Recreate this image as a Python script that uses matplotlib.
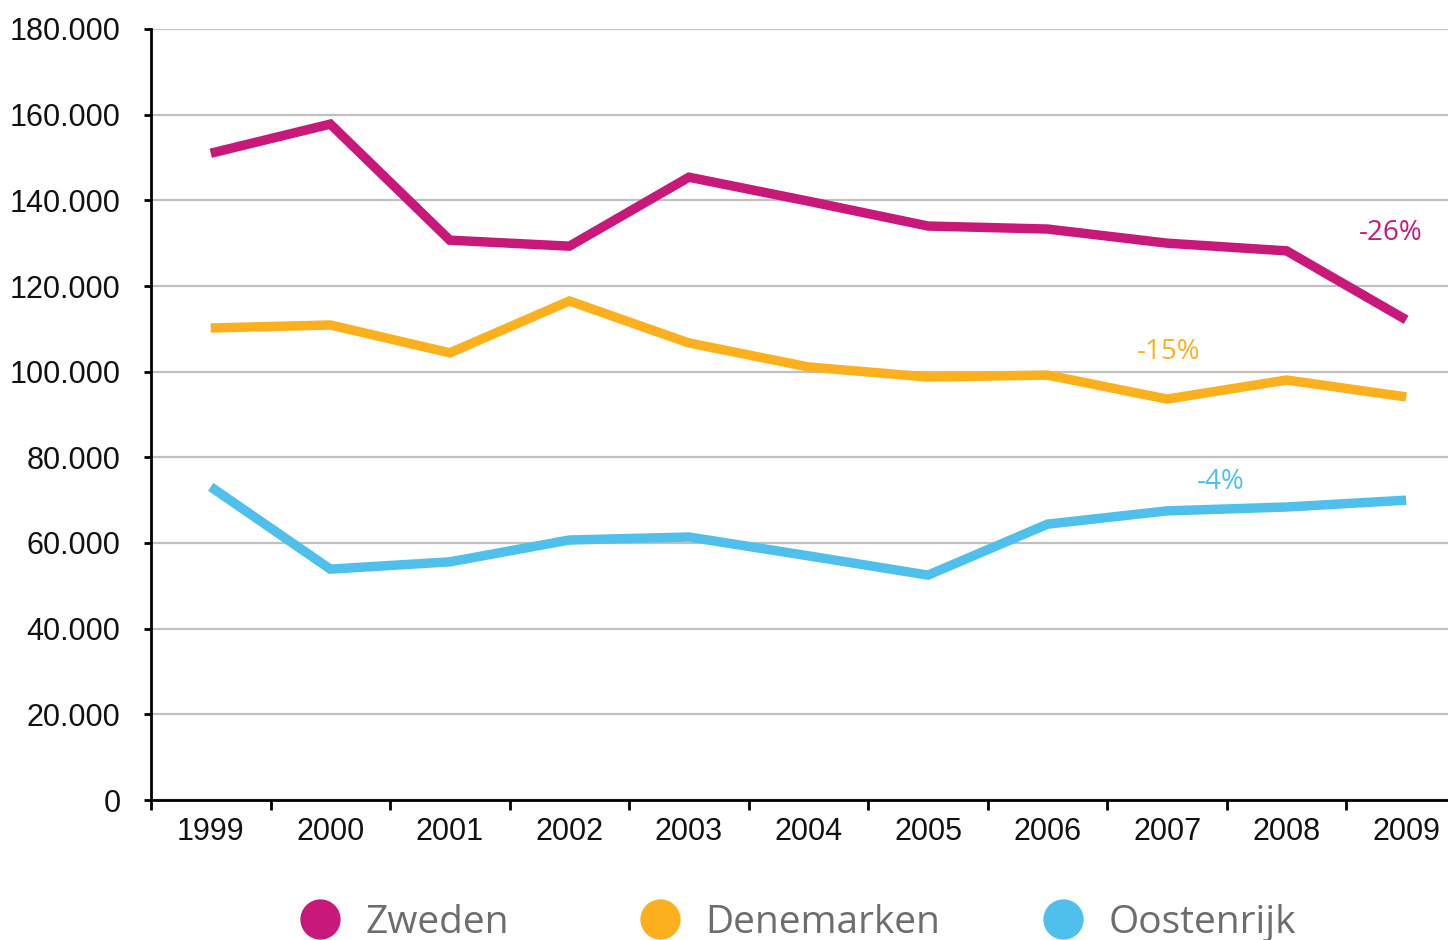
import matplotlib
matplotlib.use("Agg")
import matplotlib.pyplot as plt
from matplotlib.lines import Line2D
from matplotlib.ticker import FuncFormatter, FixedLocator

years = ["1999", "2000", "2001", "2002", "2003", "2004", "2005", "2006", "2007", "2008", "2009"]
zweden = [151000, 157800, 130700, 129300, 145400, 139800, 134000, 133300, 130000, 128200, 112100]
denemarken = [110200, 110900, 104400, 116500, 106700, 101100, 98750, 99200, 93600, 98050, 94100]
oostenrijk = [73100, 53900, 55600, 60700, 61400, 57000, 52500, 64400, 67500, 68400, 70000]
series_names = ["Zweden", "Denemarken", "Oostenrijk"]
colors = ["#C8197A", "#FDB01E", "#4EC0EB"]
changes = ["-26%", "-15%", "-4%"]
change_pos = [(9.87, 132400), (8.01, 104600), (8.45, 74200)]
yticks = [0, 20000, 40000, 60000, 80000, 100000, 120000, 140000, 160000, 180000]

plt.rcParams['font.family'] = ['Liberation Sans', 'DejaVu Sans']

fig = plt.figure(figsize=(14.48, 9.40), dpi=100)
ax = fig.add_axes([151/1448, 1-800/940, 1-151/1448, (800-29)/940])

x = list(range(len(years)))
for vals, c in zip([zweden, denemarken, oostenrijk], colors):
    ax.plot(x, vals, color=c, lw=6.8, solid_capstyle='butt', solid_joinstyle='miter', zorder=3)

for txt, (px, py), c in zip(changes, change_pos, colors):
    ax.text(px, py, txt, color=c, fontsize=20, ha='center', va='center',
            family=['Open Sans', 'DejaVu Sans'], zorder=4)

ax.set_xlim(-0.5, 10.35)
ax.set_ylim(0, 180000)
ax.set_yticks(yticks)
ax.yaxis.set_major_formatter(FuncFormatter(lambda v, p: f"{int(v):,}".replace(",", ".")))
ax.set_xticks(x)
ax.set_xticklabels(years)
ax.xaxis.set_minor_locator(FixedLocator([i - 0.5 for i in range(len(years))]))
ax.tick_params(axis='x', which='major', length=0, pad=12, labelsize=22, labelcolor='#111111')
ax.tick_params(axis='x', which='minor', length=7, width=2, direction='out', color='black')
ax.tick_params(axis='y', which='major', length=5, width=2, direction='out', pad=17,
               labelsize=22, labelcolor='#111111')

ax.grid(axis='y', color='#c0c0c0', lw=1.6, zorder=0)
ax.set_axisbelow(True)
for s in ['top', 'right']:
    ax.spines[s].set_visible(False)
for s in ['left', 'bottom']:
    ax.spines[s].set_linewidth(2)
    ax.spines[s].set_color('black')
    ax.spines[s].set_zorder(5)

legend_left_px = [300, 640, 1043]
for name, c, lx in zip(series_names, colors, legend_left_px):
    h = Line2D([], [], ls='none', marker='o', markersize=29, color=c, markeredgewidth=0)
    leg = fig.legend([h], [name], loc='center left', bbox_to_anchor=(lx/1448, 1-923/940),
                     frameon=False, handletextpad=0.65, borderpad=0, borderaxespad=0,
                     handlelength=1.03,
                     prop={'family': ['Open Sans', 'DejaVu Sans'], 'size': 28})
    for t in leg.get_texts():
        t.set_color('#6d6d6d')

fig.savefig("out.png", dpi=100)
